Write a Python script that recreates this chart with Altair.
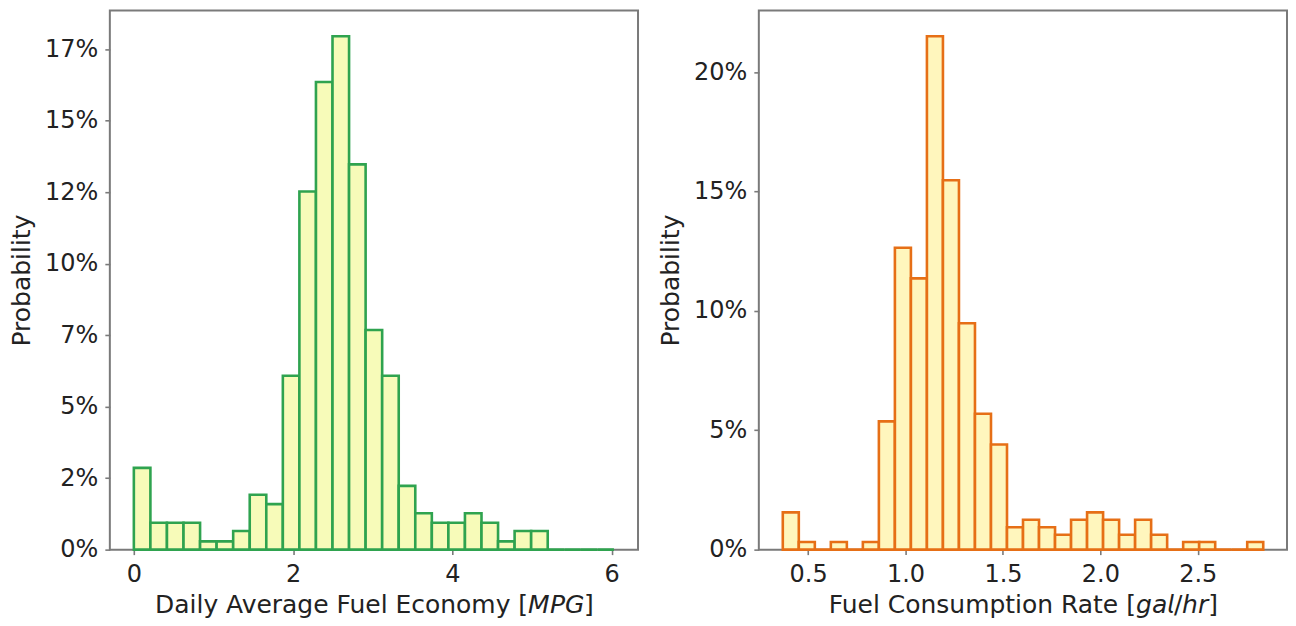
import altair as alt
import pandas as pd

# ---------------- data ----------------
# Left panel: Daily Average Fuel Economy [MPG]
mpg_bin_start = 0.0
mpg_bin_width = 0.2079
mpg_prob_pct = [2.86, 0.94, 0.94, 0.94, 0.29, 0.29, 0.65, 1.92, 1.59, 6.08,
                12.52, 16.35, 17.95, 13.47, 7.68, 6.08, 2.23, 1.27, 0.94, 0.94,
                1.27, 0.94, 0.29, 0.65, 0.65, 0.0, 0.0, 0.0, 0.0]
mpg_x_ticks = [0, 2, 4, 6]
mpg_x_domain = [-0.3015, 6.3315]
mpg_y_ticks = [0, 0.025, 0.05, 0.075, 0.10, 0.125, 0.15, 0.175]
mpg_y_domain = [0, 0.1885]

# Right panel: Fuel Consumption Rate [gal/hr]
gph_bin_start = 0.370
gph_bin_width = 0.0822
gph_prob_pct = [1.56, 0.32, 0.0, 0.32, 0.0, 0.32, 5.37, 12.64, 11.36, 21.5,
                15.47, 9.48, 5.69, 4.40, 0.94, 1.25, 0.94, 0.62, 1.25, 1.56,
                1.25, 0.62, 1.25, 0.62, 0.0, 0.32, 0.32, 0.0, 0.0, 0.32]
gph_x_ticks = [0.5, 1.0, 1.5, 2.0, 2.5]
gph_x_domain = [0.247, 2.958]
gph_y_ticks = [0, 0.05, 0.10, 0.15, 0.20]
gph_y_domain = [0, 0.2258]

mpg_title = "Daily Average Fuel Economy [\U0001D614\U0001D617\U0001D60E]"
gph_title = "Fuel Consumption Rate [\U0001D628\U0001D622\U0001D62D/\U0001D629\U0001D633]"


def make_df(start, width, pct):
    n = len(pct)
    return pd.DataFrame({
        "bin_start": [start + i * width for i in range(n)],
        "bin_end": [start + (i + 1) * width for i in range(n)],
        "prob": [p / 100.0 for p in pct],
        "base": [0.0] * n,
    })


FONT = "DejaVu Sans"
TEXT = "#222222"
GRAY = "#7a7a7a"
PANEL_W = 529
PANEL_H = 540


def panel(df, xdom, xticks, xfmt, xtitle, ydom, yticks, fill, stroke):
    return alt.Chart(df).mark_rect(fill=fill, stroke=stroke, strokeWidth=2.6).encode(
        x=alt.X("bin_start:Q",
                scale=alt.Scale(domain=xdom, nice=False, zero=False),
                axis=alt.Axis(values=xticks, format=xfmt, title=xtitle,
                              labelPadding=8, titlePadding=6)),
        x2="bin_end:Q",
        y=alt.Y("prob:Q",
                scale=alt.Scale(domain=ydom, nice=False, zero=True),
                axis=alt.Axis(values=yticks,
                              labelExpr="floor(datum.value*100+0.01) + '%'",
                              title="Probability", labelPadding=7, titlePadding=10)),
        y2="base:Q",
    ).properties(width=PANEL_W, height=PANEL_H)


left = panel(make_df(mpg_bin_start, mpg_bin_width, mpg_prob_pct),
             mpg_x_domain, mpg_x_ticks, "d", mpg_title,
             mpg_y_domain, mpg_y_ticks, "#f7fbb9", "#2fa34f")
right = panel(make_df(gph_bin_start, gph_bin_width, gph_prob_pct),
              gph_x_domain, gph_x_ticks, ".1f", gph_title,
              gph_y_domain, gph_y_ticks, "#fff6bd", "#e66f16")

chart = alt.hconcat(left, right, spacing=18).properties(
    padding={"left": 0, "top": 1, "right": 0, "bottom": 0}
).configure_view(
    stroke=GRAY, strokeWidth=2
).configure_axis(
    domain=False, grid=False,
    tickColor=GRAY, tickWidth=1.6, tickSize=5,
    labelFont=FONT, labelFontSize=24, labelColor=TEXT,
    titleFont=FONT, titleFontSize=25, titleFontWeight="normal", titleColor=TEXT,
)

chart.save("out.html", embed_options={"renderer": "svg", "actions": False})
